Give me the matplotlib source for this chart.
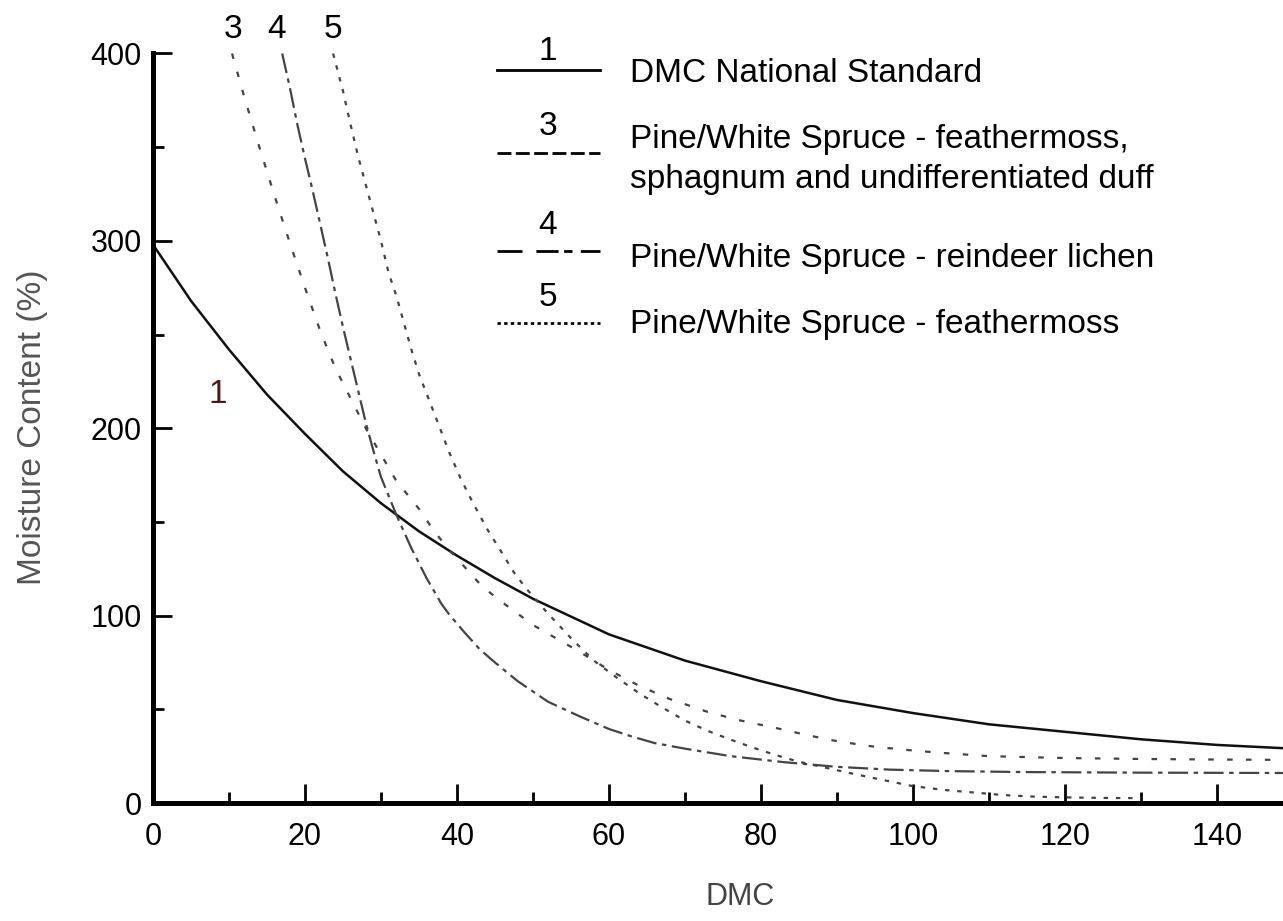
import matplotlib.pyplot as plt
from matplotlib.ticker import MultipleLocator

plt.rcParams['font.family'] = ['Liberation Sans', 'DejaVu Sans']

# curve 1 - DMC national standard
dmc_1 = [0, 5, 10, 15, 20, 25, 30, 35, 40, 45, 50, 60, 70, 80, 90, 100, 110, 120, 130, 140, 150]
mc_1 = [298, 268, 242, 218, 197, 177, 160, 145, 132, 120, 109, 90, 76, 65, 55, 48, 42, 38, 34, 31, 29]

# curve 3 - feathermoss, sphagnum, undifferentiated duff
dmc_3 = [10.4, 12, 14, 16, 18, 20, 22, 24, 26, 28, 30, 32, 35, 37, 39, 43, 45, 47, 50, 53, 56,
         60, 64, 68, 73, 77, 82, 86, 90, 95, 100, 104, 110, 120, 130, 140, 150]
mc_3 = [400, 377, 350, 324, 299, 275, 252, 232, 216, 200, 186, 172, 157, 145, 135, 117, 110, 104, 95, 88, 81,
        71, 62.5, 55.5, 48.6, 44.3, 40, 36.3, 33, 30, 28, 26.7, 25, 24, 23.5, 23.2, 23]

# curve 4 - reindeer lichen
dmc_4 = [17, 18, 19, 20, 21, 22, 23, 24, 25, 26, 27, 28, 29, 30, 31, 32, 33, 34, 35, 36, 37, 38, 39,
         41, 43, 45, 48, 52, 56, 60, 63, 66, 70, 76, 83, 90, 97, 105, 115, 130, 150]
mc_4 = [400, 382, 362, 344, 327, 309, 291, 272, 254, 237, 220, 203, 188, 174, 164, 154, 145, 136, 128, 120, 113, 106, 100.5,
        91, 82, 75, 65, 54, 46.5, 39.5, 35.5, 32, 29, 25, 21.8, 19.3, 17.8, 17, 16.5, 16.2, 16]

# curve 5 - feathermoss
dmc_5 = [23.7, 25, 26, 27, 28, 29, 30, 31, 32, 34, 35, 37, 39, 40.5, 42, 44, 46, 47.5, 49, 52, 55, 58,
         61, 64, 67, 70, 73, 76, 79, 82, 85, 88, 91, 94, 97, 100, 104, 108, 112, 116, 120, 125, 130]
mc_5 = [400, 380, 362, 345, 330, 315, 300, 283, 271, 242, 229, 208, 187, 173, 161, 146, 133, 123, 115, 101, 88, 76,
        67, 58.5, 51, 44, 38.5, 33.8, 29.5, 25.5, 22, 19.3, 16.6, 14, 11.5, 9, 7, 5.6, 4.2, 3.4, 3, 2.7, 2.6]

legend_nums = ['1', '3', '4', '5']
legend_text = [['DMC National Standard'],
               ['Pine/White Spruce - feathermoss,', 'sphagnum and undifferentiated duff'],
               ['Pine/White Spruce - reindeer lichen'],
               ['Pine/White Spruce - feathermoss']]

fig = plt.figure(figsize=(12.83, 9.21), dpi=100)
ax = fig.add_axes([153 / 1283, 118 / 921, 1130 / 1283, 749.5 / 921])

# curves
ax.plot(dmc_1, mc_1, color='#111111', lw=1.8, solid_capstyle='butt')
ax.plot(dmc_3, mc_3, color='#444444', lw=1.6, linestyle=(0, (2.5, 6)))
ax.plot(dmc_4, mc_4, color='#444444', lw=1.6, linestyle=(0, (9, 2.5, 2, 2.5)))
ax.plot(dmc_5, mc_5, color='#444444', lw=1.6, linestyle=(0, (2, 3.5)))

# curve numbers
ax.text(8.55, 218, '1', fontsize=24, ha='center', va='center', color='#4d1a1a')
for lab, xx in zip(['3', '4', '5'], [10.5, 16.3, 23.75]):
    ax.text(xx, 413, lab, fontsize=24, ha='center', va='center', clip_on=False)

# custom legend
key_styles = ['-', (0, (5, 1.6)), (0, (9, 5, 8, 2, 3, 3)), (0, (1.2, 1.2))]
key_y = [0.978, 0.867, 0.7365, 0.640]
num_y = [1.003, 0.903, 0.770, 0.674]
txt_y = [[0.962], [0.874, 0.8205], [0.715], [0.627]]
for num, lines, ls, ky, ny, tys in zip(legend_nums, legend_text, key_styles, key_y, num_y, txt_y):
    ax.plot([0.304, 0.396], [ky, ky], transform=ax.transAxes, color='black', lw=2,
            linestyle=ls, clip_on=False)
    ax.text(0.3496, ny, num, transform=ax.transAxes, fontsize=24, ha='center', va='center')
    for line, ty in zip(lines, tys):
        ax.text(0.422, ty, line, transform=ax.transAxes, fontsize=24, ha='left', va='baseline')

ax.set_xlim(0, 148.7)
ax.set_ylim(0, 400)
ax.xaxis.set_major_locator(MultipleLocator(20))
ax.xaxis.set_minor_locator(MultipleLocator(10))
ax.yaxis.set_major_locator(MultipleLocator(100))
ax.yaxis.set_minor_locator(MultipleLocator(50))

for s in ['top', 'right']:
    ax.spines[s].set_visible(False)
for s in ['left', 'bottom']:
    ax.spines[s].set_linewidth(3.6)

ax.tick_params(which='major', direction='in', length=14, width=2, labelsize=22)
ax.tick_params(which='minor', direction='in', length=8, width=2)
ax.tick_params(axis='x', which='major', pad=14)
ax.tick_params(axis='y', which='major', pad=8)

ax.set_xlabel('DMC', fontsize=22, color='#444444')
ax.set_ylabel('Moisture Content (%)', fontsize=24, color='#555555')
ax.xaxis.set_label_coords(0.52, -0.105)
ax.yaxis.set_label_coords(-0.093, 0.502)

plt.savefig('out.png', dpi=100)
